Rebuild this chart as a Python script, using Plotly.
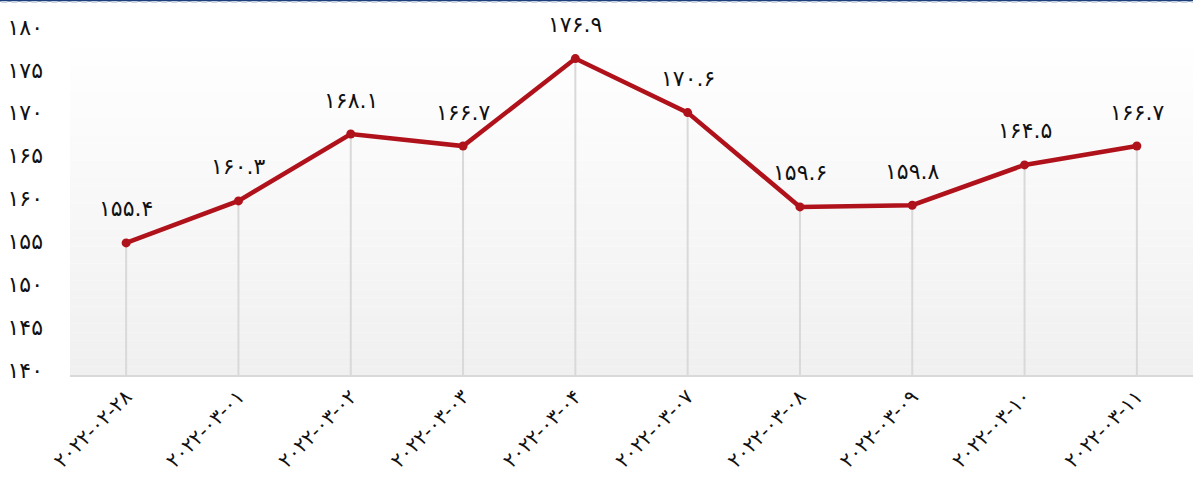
import plotly.graph_objects as go

dates = ["2022-02-28", "2022-03-01", "2022-03-02", "2022-03-03", "2022-03-04",
         "2022-03-07", "2022-03-08", "2022-03-09", "2022-03-10", "2022-03-11"]
values = [155.4, 160.3, 168.1, 166.7, 176.9, 170.6, 159.6, 159.8, 164.5, 166.7]
y_ticks = [140, 145, 150, 155, 160, 165, 170, 175, 180]

PERSIAN = str.maketrans("0123456789", "۰۱۲۳۴۵۶۷۸۹")


def fa(s):
    return str(s).translate(PERSIAN)


x_labels = [fa(d) for d in dates]
y_labels = [fa(v) for v in y_ticks]
value_labels = [fa(f"{v:.1f}") for v in values]

FONT = "DejaVu Sans"
YMIN, YMAX = 140, 180

fig = go.Figure()

# drop lines from each point to the axis
dx, dy = [], []
for d, v in zip(x_labels, values):
    dx += [d, d, None]
    dy += [v, YMIN, None]
fig.add_trace(go.Scatter(x=dx, y=dy, mode="lines",
                         line=dict(color="#d9d9d9", width=2),
                         hoverinfo="skip", showlegend=False))

fig.add_trace(go.Scatter(x=x_labels, y=values, mode="lines+markers",
                         line=dict(color="#b0121b", width=4.5),
                         marker=dict(color="#b0121b", size=9),
                         showlegend=False))

for d, v, t in zip(x_labels, values, value_labels):
    fig.add_annotation(x=d, y=v, text=t, showarrow=False, yshift=34,
                       font=dict(family=FONT, size=22, color="#111111"))

# gradient plot background
shapes = []
n = 40
for i in range(n):
    f = i / (n - 1)
    c = int(round(255 - (255 - 240) * f))
    shapes.append(dict(type="rect", xref="paper", yref="paper",
                       x0=0, x1=1, y0=1 - (i + 1) / n, y1=1 - i / n,
                       fillcolor=f"rgb({c},{c},{c})", line=dict(width=0),
                       layer="below"))
# top border lines of the page
shapes.append(dict(type="line", xref="paper", yref="paper", x0=-0.07, x1=1.01,
                   y0=1.0918, y1=1.0918, line=dict(color="#1f3f7a", width=2)))
shapes.append(dict(type="line", xref="paper", yref="paper", x0=-0.07, x1=1.01,
                   y0=1.0875, y1=1.0875,
                   line=dict(color="#c8d2e0", width=2, dash="6px,4px")))

fig.update_layout(
    width=1193, height=489,
    margin=dict(l=70, r=0, t=32, b=114, autoexpand=False),
    paper_bgcolor="white", plot_bgcolor="rgba(0,0,0,0)",
    shapes=shapes,
    xaxis=dict(type="category", range=[-0.5, 9.5], showgrid=False,
               automargin=False,
               tickangle=-45, tickfont=dict(family=FONT, size=20, color="#111111"),
               showline=True, linecolor="#d9d9d9", linewidth=2, ticks="",
               zeroline=False, fixedrange=True),
    yaxis=dict(range=[YMIN, YMAX], tickvals=y_ticks, ticktext=y_labels,
               automargin=False,
               showgrid=False, zeroline=False, ticks="",
               ticklabelstandoff=26, ticklabelshift=-5,
               tickfont=dict(family=FONT, size=22, color="#111111")),
)

fig.write_html("out.html", config={"displayModeBar": False},
               post_script="document.body.style.margin='0';document.body.style.overflow='hidden';")
